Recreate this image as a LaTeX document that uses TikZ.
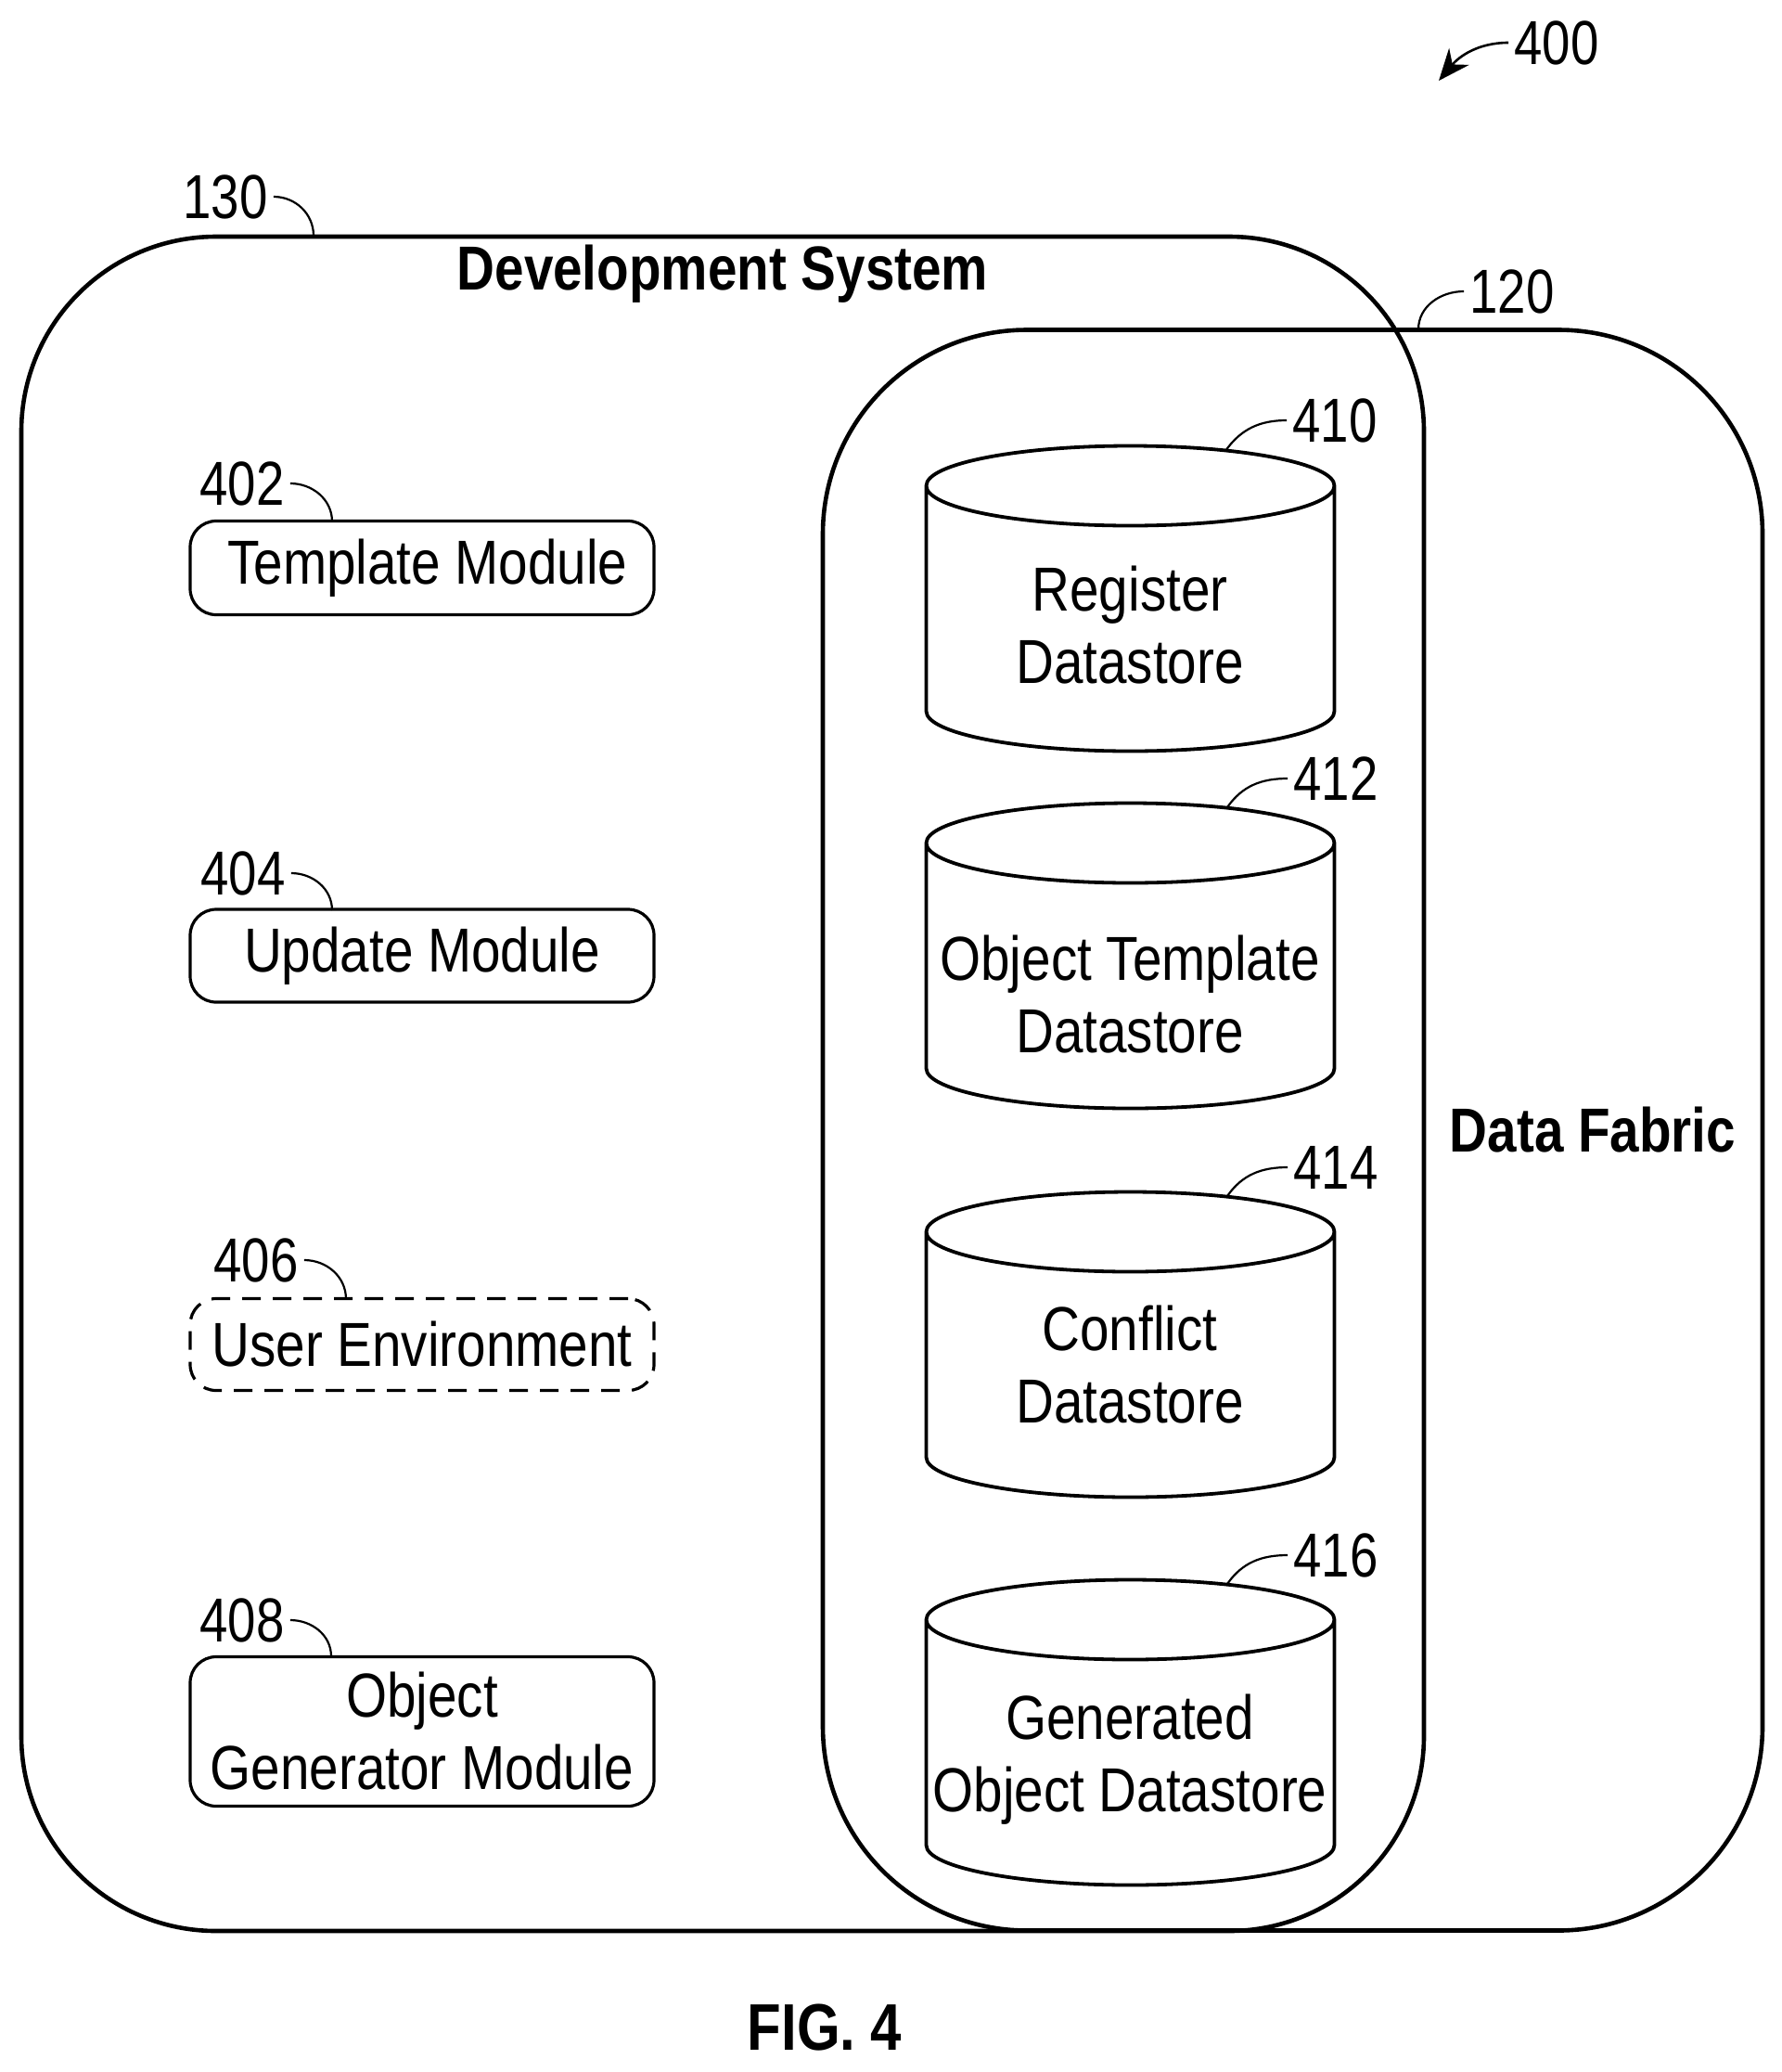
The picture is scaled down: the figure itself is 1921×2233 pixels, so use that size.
\documentclass[tikz,border=0pt]{standalone}
\usepackage{fontspec}
\setmainfont{Liberation Sans}[FakeStretch=0.845]
\newfontfamily\numfont{Liberation Sans}[FakeStretch=0.815]
\usetikzlibrary{arrows.meta,shapes.geometric,positioning}

\tikzset{
	panel/.style={draw, line width=2.3pt, rounded corners=105pt, inner sep=0pt},
	modbox/.style={draw, line width=1.6pt, rounded corners=14pt, minimum width=250pt, align=center, inner sep=0pt, font=\fontsize{33.5}{39}\selectfont},
	datastore/.style={draw, line width=1.9pt, cylinder, shape border rotate=90, shape aspect=10.75, minimum width=220pt, minimum height=164.5pt, inner sep=2pt, anchor=shape center},
	dbtext/.style={align=center, inner sep=0pt, font=\fontsize{33.5}{39}\selectfont},
	refnum/.style={inner sep=3pt, font=\numfont\fontsize{33.5}{39}\selectfont},
	heading/.style={inner sep=0pt, font=\fontsize{33.5}{39}\selectfont\bfseries},
	leader/.style={line width=1.1pt}
}

\begin{document}
\begin{tikzpicture}[x=0.5pt, y=-0.5pt]
		\useasboundingbox (0,0) rectangle (1921,2233);
		% Outer regions
		\node[panel, minimum width=756pt, minimum height=913pt] (devsys) at (779,1168) {};
		\node[panel, rounded corners=110pt, minimum width=506.5pt, minimum height=862.5pt] (fabric) at (1393.5,1218) {};
		\node[heading] (devtitle) at (779,295) {Development System};
		\node[heading] (fabrictitle) at (1717,1218) {Data Fabric};
		
		% Modules
		\node[modbox, minimum height=50.5pt] (template) at (455,612) {\hspace*{6pt}Template Module};
		\node[modbox, minimum height=50pt] (update) at (455,1030) {Update Module};
		\node[modbox, minimum height=49.5pt, dashed, dash pattern=on 10pt off 6.5pt] (userenv) at (455,1449) {User Environment};
		\node[modbox, minimum height=80.5pt] (objgen) at (455,1866) {Object\\Generator Module};
		
		% Datastores
		\node[datastore] (register) at (1218.5,645) {};
		\node[datastore] (objtemplate) at (1218.5,1030) {};
		\node[datastore] (conflict) at (1218.5,1449) {};
		\node[datastore] (generated) at (1218.5,1867) {};
		\node[dbtext] (registertxt) at (1218,674) {Register\\Datastore};
		\node[dbtext] (objtemplatetxt) at (1218,1072) {Object Template\\Datastore};
		\node[dbtext] (conflicttxt) at (1218,1471) {Conflict\\Datastore};
		\node[dbtext] (generatedtxt) at (1218,1896) {Generated\\Object Datastore};
		
		% Reference numerals
		\node[refnum] (num400) at (1678,46) {400};
		\node[refnum] (num130) at (243,212) {130};
		\node[refnum] (num120) at (1630,314) {120};
		\node[refnum] (num402) at (261,521) {402};
		\node[refnum] (num404) at (262,941) {404};
		\node[refnum] (num406) at (276,1358) {406};
		\node[refnum] (num408) at (261,1746) {408};
		\node[refnum] (num410) at (1439,453) {410};
		\node[refnum] (num412) at (1440,839) {412};
		\node[refnum] (num414) at (1440,1258) {414};
		\node[refnum] (num416) at (1440,1676) {416};
		
		% Leader ends
		\coordinate (tip400) at (1551,87);
		\coordinate (tip130) at (338,254);
		\coordinate (tip120) at (1529,355);
		\coordinate (tip402) at (358,562);
		\coordinate (tip404) at (358,981);
		\coordinate (tip406) at (373,1400);
		\coordinate (tip408) at (357,1785);
		\coordinate (tip410) at (1321,486);
		\coordinate (tip412) at (1323,870);
		\coordinate (tip414) at (1323,1289);
		\coordinate (tip416) at (1323,1707);
		
		% Leaders
		\draw[leader, line width=1.3pt, -{Stealth[length=17pt, width=14pt]}] (num400.west) to[out=180, in=50] (tip400);
		\path 
		(num130.east) edge[leader, out=0, in=90] (tip130)
		(num120.west) edge[leader, out=180, in=90] (tip120)
		(num402.east) edge[leader, out=0, in=90] (tip402)
		(num404.east) edge[leader, out=0, in=90] (tip404)
		(num406.east) edge[leader, out=0, in=90] (tip406)
		(num408.east) edge[leader, out=0, in=90] (tip408)
		(num410.west) edge[leader, out=180, in=55] (tip410)
		(num412.west) edge[leader, out=180, in=55] (tip412)
		(num414.west) edge[leader, out=180, in=55] (tip414)
		(num416.west) edge[leader, out=180, in=55] (tip416);
		
		\node[heading, font=\fontsize{35.5}{40}\selectfont\bfseries] (figlabel) at (889,2185) {FIG. 4};
	\end{tikzpicture}
\end{document}
